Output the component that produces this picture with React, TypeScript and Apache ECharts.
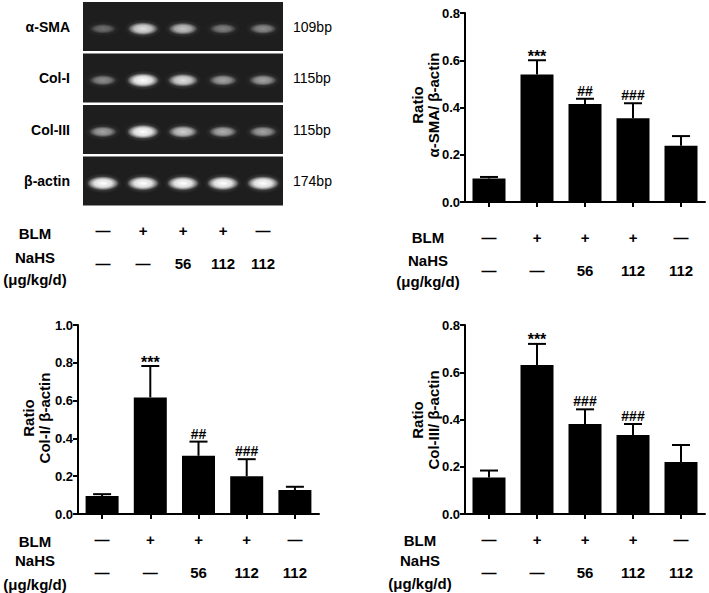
import { useEffect, useRef } from "react";
import * as echarts from "echarts";

// ---- data ----
const lanes = ["1", "2", "3", "4", "5"];
const blmRow = ["—", "+", "+", "+", "—"];
const nahsRow = ["—", "—", "56", "112", "112"];

const gelGenes = ["α-SMA", "Col-I", "Col-III", "β-actin"];
const gelSizes = ["109bp", "115bp", "115bp", "174bp"];
const smaBand = [0.28, 0.8, 0.65, 0.35, 0.4];
const col1Band = [0.4, 1.0, 0.8, 0.5, 0.5];
const col3Band = [0.5, 1.0, 0.7, 0.55, 0.5];
const actinBand = [1.0, 1.0, 1.0, 1.0, 1.0];

const smaMean = [0.1, 0.54, 0.415, 0.355, 0.238];
const smaErr = [0.006, 0.06, 0.022, 0.063, 0.041];
const smaSig = ["", "***", "##", "###", ""];

const col1Mean = [0.095, 0.617, 0.308, 0.2, 0.127];
const col1Err = [0.01, 0.166, 0.075, 0.09, 0.017];
const col1Sig = ["", "***", "##", "###", ""];

const col3Mean = [0.154, 0.631, 0.381, 0.334, 0.22];
const col3Err = [0.03, 0.089, 0.062, 0.047, 0.072];
const col3Sig = ["", "***", "###", "###", ""];

const FONT = "'Liberation Sans', Arial, sans-serif";

function errRender(sig: string[]) {
  return (params: any, api: any) => {
    const i = api.value(0);
    const m = api.value(1);
    const e = api.value(2);
    const base = api.coord([i, m]);
    const top = api.coord([i, m + e]);
    const children: any[] = [
      {
        type: "line",
        shape: { x1: base[0], y1: base[1], x2: top[0], y2: top[1] },
        style: { stroke: "#000", lineWidth: 2 },
      },
      {
        type: "line",
        shape: { x1: top[0] - 9, y1: top[1], x2: top[0] + 9, y2: top[1] },
        style: { stroke: "#000", lineWidth: 2 },
      },
    ];
    const s = sig[params.dataIndex];
    if (s) {
      const star = s.indexOf("*") >= 0;
      children.push({
        type: "text",
        x: top[0],
        y: top[1] + (star ? 4 : -1),
        style: {
          text: s,
          align: "center",
          verticalAlign: "bottom",
          fontSize: star ? 16 : 14,
          fontWeight: "bold",
          fontFamily: FONT,
          fill: "#000",
        },
      });
    }
    return { type: "group", children };
  };
}

function barAxes(gridIndex: number, max: number, margin: number) {
  const x = {
    type: "category",
    gridIndex,
    data: lanes,
    axisLine: { show: true, lineStyle: { color: "#000", width: 2 } },
    axisTick: { show: true, alignWithLabel: true, length: 5, lineStyle: { color: "#000", width: 2 } },
    axisLabel: {
      margin,
      formatter: (_v: string, i: number) => `${blmRow[i]}\n${nahsRow[i]}`,
      fontSize: 15,
      fontWeight: "bold",
      lineHeight: 33,
      color: "#000",
      fontFamily: FONT,
    },
  };
  const y = {
    type: "value",
    gridIndex,
    min: 0,
    max,
    interval: 0.2,
    splitLine: { show: false },
    axisLine: { show: true, lineStyle: { color: "#000", width: 2 } },
    axisTick: { show: true, length: 5, lineStyle: { color: "#000", width: 2 } },
    axisLabel: {
      margin: 5,
      formatter: (v: number) => v.toFixed(1),
      fontSize: 13,
      fontWeight: "bold",
      color: "#000",
      fontFamily: FONT,
    },
  };
  return { x, y };
}

function axisTitle(text: string, cx: number, cy: number) {
  return {
    type: "text",
    x: cx,
    y: cy,
    rotation: Math.PI / 2,
    style: {
      text,
      align: "center",
      verticalAlign: "middle",
      fontSize: 15,
      fontWeight: "bold",
      lineHeight: 16,
      fontFamily: FONT,
      fill: "#000",
    },
  };
}

function rowLabels(cx: number, yBlm: number, yNahs: number, yUnit: number) {
  const st = (text: string, y: number) => ({
    type: "text",
    x: cx,
    y,
    style: {
      text,
      align: "center",
      verticalAlign: "middle",
      fontSize: 15,
      fontWeight: "bold",
      fontFamily: FONT,
      fill: "#000",
    },
  });
  return [st("BLM", yBlm), st("NaHS", yNahs), st("(μg/kg/d)", yUnit)];
}

export default function App() {
  const ref = useRef<HTMLDivElement>(null);

  useEffect(() => {
    if (!ref.current) return;
    const chart = echarts.init(ref.current, undefined, { renderer: "svg" });

    const gelRows = [smaBand, col1Band, col3Band, actinBand];
    const gelData: number[][] = [];
    gelRows.forEach((row, g) => row.forEach((v, l) => gelData.push([l, g, v])));

    const tr = barAxes(1, 0.8, 18.5);
    const bl = barAxes(2, 1.0, 8.5);
    const br = barAxes(3, 0.8, 8.5);

    const barSeries = (idx: number, mean: number[], err: number[], sig: string[]) => [
      {
        type: "bar",
        xAxisIndex: idx,
        yAxisIndex: idx + 1,
        data: mean,
        barWidth: 33,
        itemStyle: { color: "#000" },
      },
      {
        type: "custom",
        xAxisIndex: idx,
        yAxisIndex: idx + 1,
        data: mean.map((m, i) => [i, m, err[i]]),
        renderItem: errRender(sig),
        z: 3,
      },
    ];

    const option: any = {
      animation: false,
      backgroundColor: "#fff",
      grid: [
        { left: 83, top: 1, width: 200, height: 206 },
        { left: 465, top: 13, width: 240, height: 189 },
        { left: 78, top: 325, width: 241, height: 189 },
        { left: 465, top: 325, width: 240, height: 189 },
      ],
      xAxis: [
        {
          type: "category",
          gridIndex: 0,
          data: lanes,
          axisLine: { show: false },
          axisTick: { show: false },
          axisLabel: {
            margin: 6.5,
            formatter: (_v: string, i: number) => `${blmRow[i]}\n${nahsRow[i]}`,
            fontSize: 15,
            fontWeight: "bold",
            lineHeight: 33,
            color: "#000",
            fontFamily: FONT,
          },
        },
        tr.x,
        bl.x,
        br.x,
      ],
      yAxis: [
        {
          type: "category",
          gridIndex: 0,
          inverse: true,
          data: gelGenes,
          axisLine: { show: false },
          axisTick: { show: false },
          axisLabel: { margin: 13, fontSize: 14, fontWeight: "bold", color: "#000", fontFamily: FONT },
        },
        {
          type: "category",
          gridIndex: 0,
          position: "right",
          inverse: true,
          data: gelSizes,
          axisLine: { show: false },
          axisTick: { show: false },
          axisLabel: { margin: 10, fontSize: 14, color: "#000", fontFamily: FONT },
        },
        tr.y,
        bl.y,
        br.y,
      ],
      graphic: [
        axisTitle("Ratio\nα-SMA/ β-actin", 425.5, 105),
        axisTitle("Ratio\nCol-I/ β-actin", 36, 418),
        axisTitle("Ratio\nCol-III/ β-actin", 425.5, 420),
        ...rowLabels(35, 233, 257, 279),
        ...rowLabels(428, 237, 260, 281),
        ...rowLabels(35, 541, 560, 584),
        ...rowLabels(420, 540, 560, 583),
      ],
      series: [
        {
          type: "custom",
          xAxisIndex: 0,
          yAxisIndex: 0,
          data: gelGenes.map((_, g) => [0, g]),
          renderItem: (params: any, api: any) => {
            const c = api.coord([0, api.value(1)]);
            const size = api.size([1, 1]);
            const cs = params.coordSys;
            return {
              type: "rect",
              shape: { x: cs.x, y: c[1] - size[1] / 2 + 1, width: cs.width, height: size[1] - 2.5 },
              style: { fill: "#1e1e1e" },
            };
          },
        },
        {
          type: "custom",
          xAxisIndex: 0,
          yAxisIndex: 0,
          data: gelData,
          renderItem: (_params: any, api: any) => {
            const c = api.coord([api.value(0), api.value(1)]);
            const v = api.value(2);
            const halo = new echarts.graphic.RadialGradient(0.5, 0.5, 0.5, [
              { offset: 0, color: `rgba(255,255,255,${0.4 * v})` },
              { offset: 1, color: "rgba(255,255,255,0)" },
            ]);
            const core = new echarts.graphic.RadialGradient(0.5, 0.5, 0.5, [
              { offset: 0, color: `rgba(255,255,255,${v})` },
              { offset: 0.55, color: `rgba(245,245,245,${0.85 * v})` },
              { offset: 1, color: "rgba(255,255,255,0)" },
            ]);
            return {
              type: "group",
              children: [
                {
                  type: "ellipse",
                  shape: { cx: c[0], cy: c[1] + 2, rx: 17 + 2 * v, ry: 7 + 3 * v },
                  style: { fill: halo },
                },
                {
                  type: "ellipse",
                  shape: { cx: c[0], cy: c[1] + 2, rx: 12 + 4 * v, ry: 4 + 3 * v },
                  style: { fill: core },
                },
              ],
            };
          },
        },
        ...barSeries(1, smaMean, smaErr, smaSig),
        ...barSeries(2, col1Mean, col1Err, col1Sig),
        ...barSeries(3, col3Mean, col3Err, col3Sig),
      ],
    };

    chart.setOption(option);
    return () => chart.dispose();
  }, []);

  return (
    <div
      ref={ref}
      style={{ position: "absolute", left: 0, top: 0, width: 709, height: 593 }}
    />
  );
}
